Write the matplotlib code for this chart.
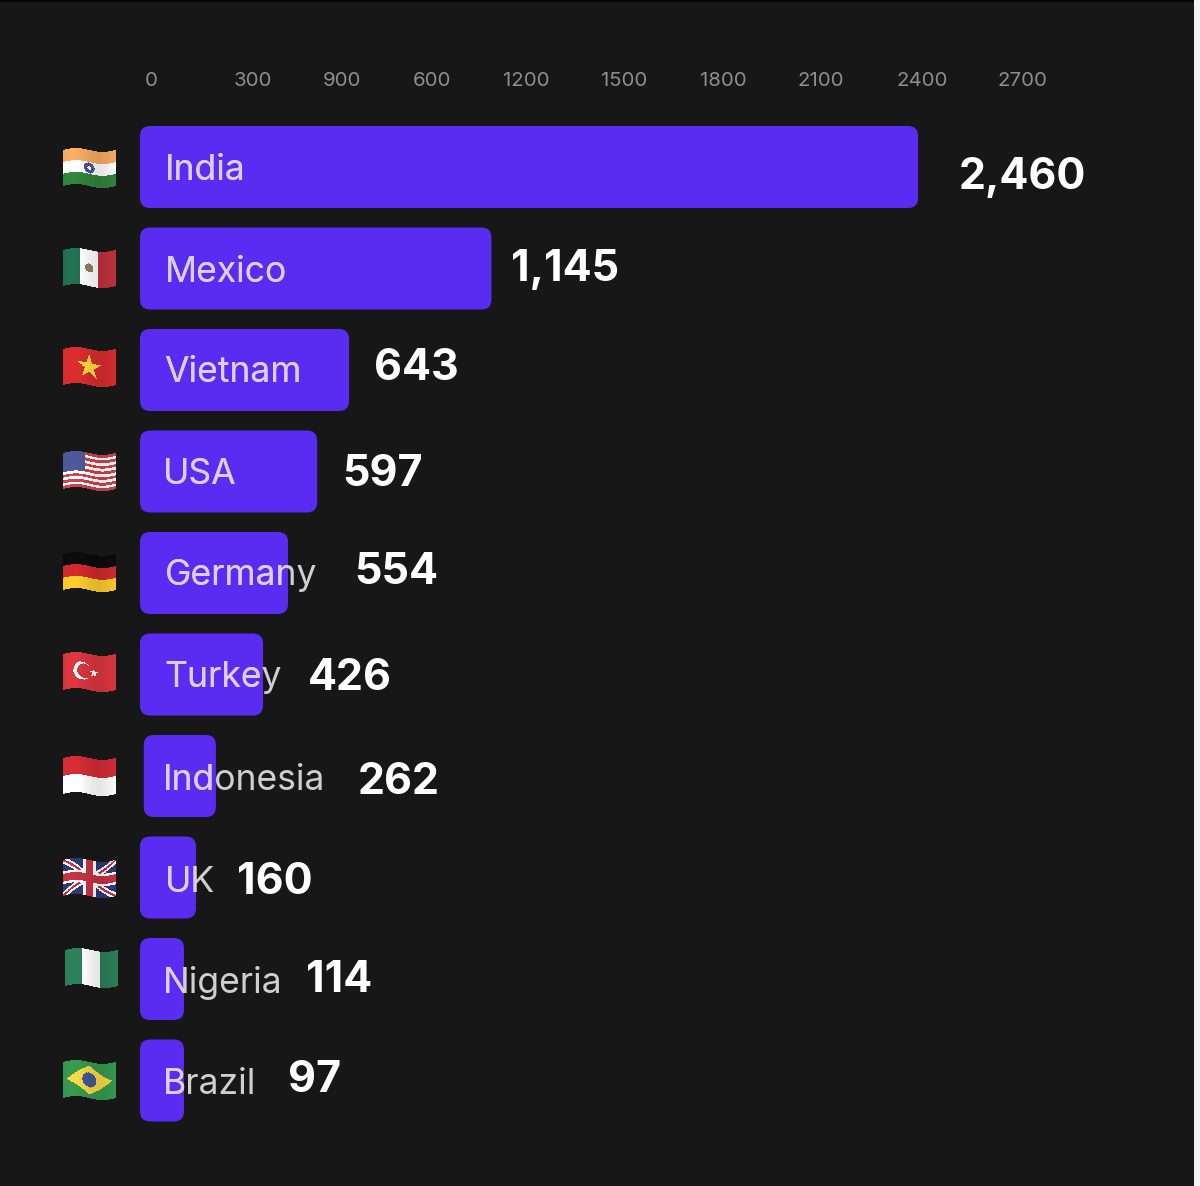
import numpy as np
import matplotlib
matplotlib.use('Agg')
import matplotlib.pyplot as plt
from matplotlib.patches import FancyBboxPatch, Rectangle
from matplotlib.path import Path

countries = ['India', 'Mexico', 'Vietnam', 'USA', 'Germany', 'Turkey', 'Indonesia', 'UK', 'Nigeria', 'Brazil']
printed_values = ['2,460', '1,145', '643', '597', '554', '426', '262', '160', '114', '97']
# the bars are not to scale in the original, so these are the drawn lengths
bar_starts = [0, 0, 0, 0, 0, 0, 12, 0, 0, 0]
bar_ends = [2460, 1111, 661, 560, 468, 389, 240, 177, 139, 139]
tick_labels = ['0', '300', '900', '600', '1200', '1500', '1800', '2100', '2400', '2700']
tick_positions = [35, 357, 638, 923, 1220, 1530, 1843, 2153, 2474, 2790]

# label placement in pixels
name_x = [165, 165, 164, 163, 165, 164, 163, 165, 163, 163]
name_y = [170, 272, 372, 474, 576, 677, 780, 883, 983, 1084]
value_x = [959, 511, 374, 342, 354, 308, 358, 237, 306, 288]
value_y = [177, 269, 369, 474, 573, 678, 782, 882, 981, 1080]
flag_x = [89, 89, 89, 89, 89, 89, 89, 89, 91, 89]
flag_y = [168, 268, 367, 471, 572, 672, 776, 878, 968, 1080]

BG = '#171717'
PURPLE = '#5A2CF2'
W, H = 1200, 1186
PX = 0.3163  # pixels per unit
ROW = 101.5
plt.rcParams['font.family'] = ['Inter', 'DejaVu Sans']

fig = plt.figure(figsize=(12, 11.86), dpi=100, facecolor=BG)

# main axes: x in value units, y in rows
left, right, top, bottom = 140, 1190, 105, 1150
ax = fig.add_axes([left / W, 1 - bottom / H, (right - left) / W, (bottom - top) / H])
ax.set_facecolor(BG)
ax.set_xlim(0, (right - left) / PX)
ax.set_ylim((bottom - 167) / ROW, (top - 167) / ROW)
for s in ax.spines.values():
    s.set_visible(False)
ax.xaxis.tick_top()
ax.set_xticks(tick_positions)
ax.set_xticklabels(tick_labels, fontsize=14.7, color='#8E8E8E')
ax.tick_params(axis='x', length=0, pad=11)
ax.set_yticks([])

bar_h = 82 / ROW
r = 10 / PX
patches = []
for i in range(len(countries)):
    b = FancyBboxPatch((bar_starts[i], i - bar_h / 2), bar_ends[i] - bar_starts[i], bar_h,
                       boxstyle='round,pad=0,rounding_size=%f' % r,
                       mutation_aspect=(10 / ROW) / r, fc=PURPLE, ec='none')
    ax.add_patch(b)
    patches.append(b)


def star_mask(x, y, cx, cy, ro, ri=None, rot=-np.pi / 2):
    ri = ro * 0.382 if ri is None else ri
    ang = rot + np.arange(10) * np.pi / 5
    rad = np.where(np.arange(10) % 2 == 0, ro, ri)
    poly = Path(np.c_[cx + rad * np.cos(ang), cy + rad * np.sin(ang)])
    return poly.contains_points(np.c_[x.ravel(), y.ravel()]).reshape(x.shape)


def hexc(c):
    return np.array(matplotlib.colors.to_rgb(c))


def flag_image(name, u, v):
    # u, v run 0..1, v downwards; x and y keep the 3:2 proportions
    img = np.full(u.shape + (3,), 0.96)
    x, y = u * 1.5, v
    if name == 'India':
        img[v < 1 / 3] = hexc('#EDA45E')
        img[v > 2 / 3] = hexc('#2F7F3A')
        d = np.hypot(x - 0.75, y - 0.5)
        img[(d < 0.15) & (d > 0.05)] = hexc('#4A4E96')
    elif name == 'Mexico':
        img[u < 1 / 3] = hexc('#1F6B4E')
        img[u > 2 / 3] = hexc('#B5303A')
        img[np.hypot(x - 0.75, y - 0.5) < 0.12] = hexc('#8A7A55')
    elif name == 'Vietnam':
        img[:] = hexc('#D02A2E')
        img[star_mask(x, y, 0.75, 0.5, 0.36)] = hexc('#F6D23E')
    elif name == 'USA':
        stripe = np.floor(v * 13).astype(int) % 2 == 0
        img[stripe] = hexc('#C4404A')
        img[(u < 0.42) & (v < 7 / 13)] = hexc('#4A5590')
    elif name == 'Germany':
        img[v < 1 / 3] = hexc('#0B0B0B')
        img[(v >= 1 / 3) & (v < 2 / 3)] = hexc('#C8282C')
        img[v >= 2 / 3] = hexc('#F0C22A')
    elif name == 'Turkey':
        img[:] = hexc('#D2343C')
        img[np.hypot(x - 0.55, y - 0.5) < 0.25] = 0.96
        img[np.hypot(x - 0.61, y - 0.5) < 0.2] = hexc('#D2343C')
        img[star_mask(x, y, 0.88, 0.5, 0.13)] = 0.96
    elif name == 'Indonesia':
        img[v < 0.5] = hexc('#CC2A33')
    elif name == 'UK':
        img[:] = hexc('#2C3870')
        d1 = np.abs(y - u)
        d2 = np.abs(y - (1 - u))
        img[(d1 < 0.1) | (d2 < 0.1)] = 0.96
        img[(d1 < 0.035) | (d2 < 0.035)] = hexc('#BE3040')
        img[(np.abs(u - 0.5) < 0.12) | (np.abs(v - 0.5) < 0.18)] = 0.96
        img[(np.abs(u - 0.5) < 0.07) | (np.abs(v - 0.5) < 0.11)] = hexc('#BE3040')
    elif name == 'Nigeria':
        img[(u < 1 / 3) | (u > 2 / 3)] = hexc('#2A7A56')
    elif name == 'Brazil':
        img[:] = hexc('#34924C')
        img[np.abs(u - 0.5) / 0.43 + np.abs(v - 0.5) / 0.4 < 1] = hexc('#EDD040')
        img[np.hypot(x - 0.75, y - 0.5) < 0.2] = hexc('#3C5590')
    return img


# overlay in pixel coordinates for flags, labels and the screenshot edges
over = fig.add_axes([0, 0, 1, 1])
over.set_xlim(0, W)
over.set_ylim(H, 0)
over.axis('off')
over.patch.set_alpha(0)

fw, fh = 53, 36
edges_u = np.linspace(0, 1, 107)
edges_v = np.linspace(0, 1, 75)
U, V = np.meshgrid(edges_u, edges_v)
cu, cv = np.meshgrid((edges_u[:-1] + edges_u[1:]) / 2, (edges_v[:-1] + edges_v[1:]) / 2)
for i, name in enumerate(countries):
    img = flag_image(name, cu, cv)
    shade = 1 + 0.06 * np.sin(cu * 2 * np.pi + 0.5)
    img = np.clip(img * shade[..., None], 0, 1)
    gx = flag_x[i] - fw / 2 + U * fw
    gy = flag_y[i] - fh / 2 + V * fh - 2 * np.sin(U * 2 * np.pi)
    over.pcolormesh(gx, gy, img, shading='flat', rasterized=True)

# names change colour where they run over the bar
for i, name in enumerate(countries):
    over.text(name_x[i], name_y[i], name, fontsize=25.6, color='#CFCFCF', va='center', ha='left')
    t = over.text(name_x[i], name_y[i], name, fontsize=25.6, color='#DCCEFF', va='center', ha='left')
    # has to be set after ax.text, which would replace a Rectangle clip with the axes patch
    t.set_clip_path(Rectangle((patches[i].get_x(), patches[i].get_y()), patches[i].get_width(),
                              patches[i].get_height(), transform=ax.transData))
    t.set_clip_on(True)
    over.text(value_x[i], value_y[i], printed_values[i], fontsize=31, fontweight='bold',
              color='white', va='center', ha='left')

over.add_patch(Rectangle((1194, 0), 6, H, fc='#F4F4F4', ec='none'))
over.add_patch(Rectangle((0, 0), 1194, 2, fc='#050505', ec='none'))

plt.savefig('out.png', dpi=100, facecolor=BG)
